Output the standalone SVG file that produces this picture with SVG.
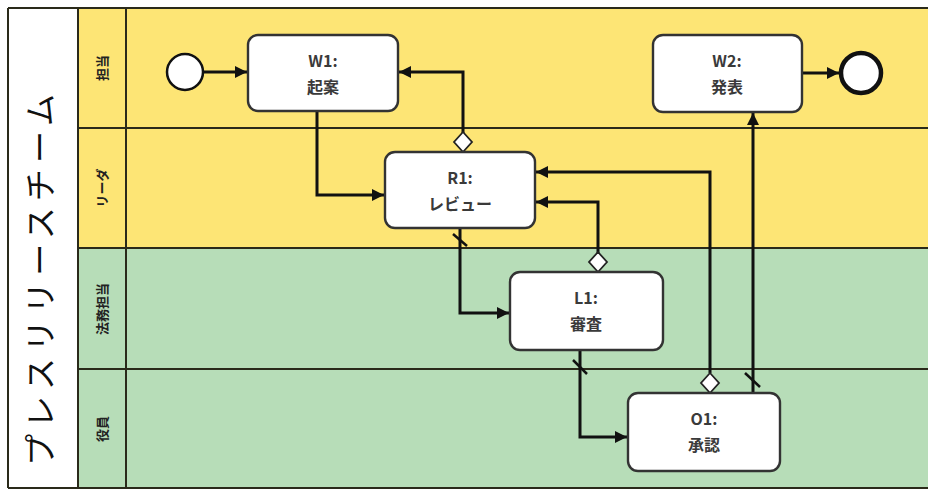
<svg xmlns="http://www.w3.org/2000/svg" width="928" height="490" viewBox="0 0 928 490">
<style>
.lane-y{fill:#FDE575}
.lane-g{fill:#B7DDB8}
.sep{stroke:#2a2a1a;stroke-width:2;fill:none}
.task{fill:#fff;stroke:#333;stroke-width:2.4}
.t{font-family:"Noto Sans CJK JP","Liberation Sans",sans-serif;font-size:16px;font-weight:bold;fill:#3a3a3a;text-anchor:middle}
.lbl{font-family:"Noto Sans CJK JP",sans-serif;font-size:13px;font-weight:bold;fill:#222;text-anchor:middle}
.flow{stroke:#111;stroke-width:3;fill:none}
.dia{fill:#fff;stroke:#222;stroke-width:1.8}
.slash{stroke:#111;stroke-width:2.5}
</style>
<defs>
<marker id="ah" viewBox="0 0 10 10" refX="10" refY="5" markerWidth="4" markerHeight="4" orient="auto" markerUnits="strokeWidth">
<path d="M0,0 L10,5 L0,10 z" fill="#111"/>
</marker>
</defs>
<rect x="0" y="0" width="928" height="490" fill="#fff"/>
<g id="pool">
<rect x="8" y="8" width="70" height="480" fill="#fff"/>
<rect class="lane-y" x="78" y="8" width="850" height="240"/>
<rect class="lane-g" x="78" y="248" width="850" height="240"/>
<line class="sep" x1="8" y1="8" x2="928" y2="8"/>
<line class="sep" x1="8" y1="8" x2="8" y2="488"/>
<line class="sep" x1="78" y1="8" x2="78" y2="488"/>
<line class="sep" x1="126" y1="8" x2="126" y2="488"/>
<line class="sep" x1="78" y1="128" x2="928" y2="128"/>
<line class="sep" x1="78" y1="248" x2="928" y2="248"/>
<line class="sep" x1="78" y1="369" x2="928" y2="369"/>
<line class="sep" x1="8" y1="488" x2="928" y2="488"/>
<text transform="translate(52,280) rotate(-90)" font-family="Noto Sans CJK JP,sans-serif" font-size="32" fill="#111" text-anchor="middle" textLength="372" lengthAdjust="spacing">プレスリリースチーム</text>
<text class="lbl" transform="translate(107,68) rotate(-90)">担当</text>
<text class="lbl" transform="translate(107,188) rotate(-90)">リーダ</text>
<text class="lbl" transform="translate(107,309) rotate(-90)">法務担当</text>
<text class="lbl" transform="translate(107,429) rotate(-90)">役員</text>
</g>
<g id="connectors">
<path class="flow" d="M204,72 H247" marker-end="url(#ah)"/>
<path class="flow" d="M803,73 H839" marker-end="url(#ah)"/>
<path class="flow" d="M317,111 V195 H384" marker-end="url(#ah)"/>
<path class="flow" d="M463,134 V72 H399" marker-end="url(#ah)"/>
<path class="flow" d="M460,228 V313 H509" marker-end="url(#ah)"/>
<line class="slash" x1="453" y1="234" x2="467" y2="246"/>
<path class="flow" d="M598,254 V202 H536" marker-end="url(#ah)"/>
<path class="flow" d="M580,350 V437 H627" marker-end="url(#ah)"/>
<line class="slash" x1="573" y1="360" x2="587" y2="374"/>
<path class="flow" d="M710,373 V172 H536" marker-end="url(#ah)"/>
<path class="flow" d="M753,393 V113" marker-end="url(#ah)"/>
<line class="slash" x1="745" y1="373" x2="760" y2="387"/>
<path class="dia" d="M463,132 L472,142 L463,152 L454,142 z"/>
<path class="dia" d="M598,252 L607,262 L598,272 L589,262 z"/>
<path class="dia" d="M710,373 L719,383 L710,393 L701,383 z"/>
</g>
<g id="start">
<circle cx="185" cy="72" r="18" fill="#fff" stroke="#111" stroke-width="2.5"/>
</g>
<g id="end">
<circle cx="861" cy="73" r="20" fill="#fff" stroke="#111" stroke-width="4.5"/>
</g>
<g id="W1">
<rect class="task" x="248" y="35" width="150" height="76" rx="10"/>
<text class="t" x="323" y="67">W1:</text>
<text class="t" x="323" y="93">起案</text>
</g>
<g id="W2">
<rect class="task" x="653" y="35" width="149" height="77" rx="10"/>
<text class="t" x="727" y="67">W2:</text>
<text class="t" x="727" y="93">発表</text>
</g>
<g id="R1">
<rect class="task" x="385" y="152" width="150" height="76" rx="10"/>
<text class="t" x="460" y="184">R1:</text>
<text class="t" x="460" y="210">レビュー</text>
</g>
<g id="L1">
<rect class="task" x="510" y="272" width="153" height="78" rx="10"/>
<text class="t" x="586" y="304">L1:</text>
<text class="t" x="586" y="330">審査</text>
</g>
<g id="O1">
<rect class="task" x="628" y="393" width="152" height="78" rx="10"/>
<text class="t" x="704" y="425">O1:</text>
<text class="t" x="704" y="451">承認</text>
</g>
</svg>
